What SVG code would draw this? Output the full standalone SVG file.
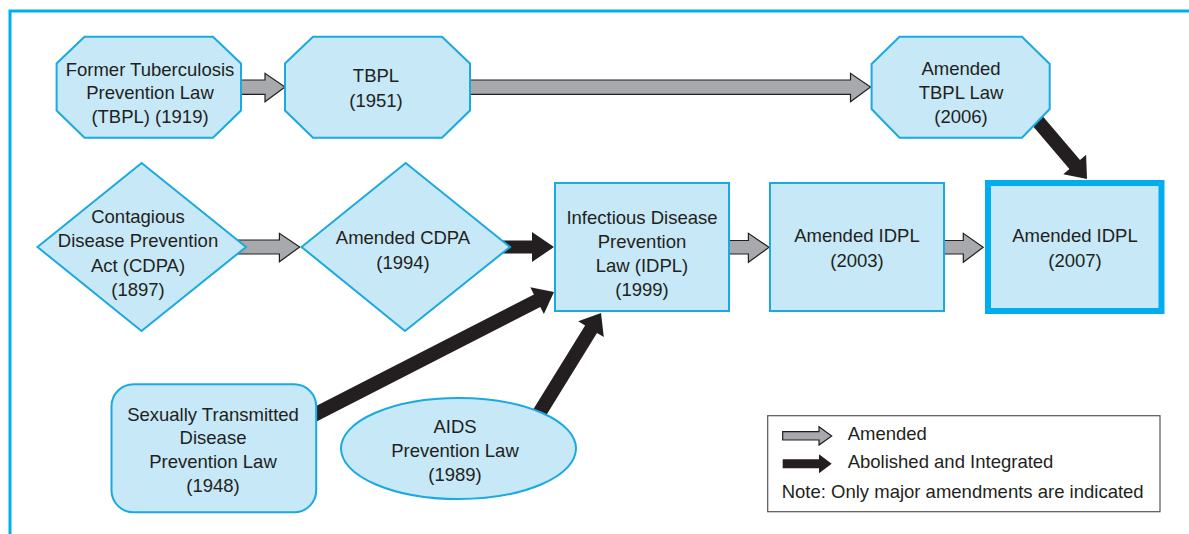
<svg xmlns="http://www.w3.org/2000/svg" width="1189" height="534" viewBox="0 0 1189 534">
<style>
.n{fill:#c6e8f7;stroke:#1ba9e1;stroke-width:2}
.t{font-family:"Liberation Sans",Arial,sans-serif;font-size:18.5px;fill:#231f20;text-anchor:middle}
.l{font-family:"Liberation Sans",Arial,sans-serif;font-size:18.5px;fill:#231f20}
.g{fill:#a7a9ac;stroke:#231f20;stroke-width:1.2;stroke-linejoin:miter}
.b{fill:#231f20;stroke:none}
</style>
<rect x="0" y="0" width="1189" height="534" fill="#ffffff"/>
<path d="M10,534 V11 H1189" fill="none" stroke="#00aeef" stroke-width="3"/>
<g id="connectors">
<polygon class="g" points="238,80 265,80 265,73.3 285,87 265,101.7 265,94.3 238,94.3"/>
<polygon class="g" points="467,80 850.5,80 850.5,73.3 870.5,87 850.5,101.7 850.5,94.3 467,94.3"/>
<polygon class="g" points="225,240 279.4,240 279.4,233.3 299.7,247 279.4,261.7 279.4,254 225,254"/>
<polygon class="g" points="726,240.5 748.4,240.5 748.4,233.3 769,247.3 748.4,262.3 748.4,254 726,254"/>
<polygon class="g" points="941,240.5 963.3,240.5 963.3,233.3 983.2,247.3 963.3,262.3 963.3,254 941,254"/>
<polygon class="b" points="495,240.5 532,240.5 532,232 554,247 532,262 532,253.5 495,253.5"/>
<polygon class="b" points="306.8,410.8 533.9,294.4 530.3,287.3 554,292 543.9,314 540.3,306.9 313.2,423.2"/>
<polygon class="b" points="529,416.3 585.1,325.5 578.2,321.3 601,313 603.8,337.1 597,332.9 541,423.7"/>
<polygon class="b" points="1035.3,107.5 1080,160 1086.1,154.8 1087,179 1063.3,174.2 1069.4,169.1 1024.7,116.5"/>
</g>
<g id="former-tbpl">
<polygon class="n" points="84.5,36.7 213,36.7 241,63.5 241,110.5 213,137.7 84.5,137.7 56.6,110.5 56.6,63.5"/>
<text class="t" x="150" y="75.5">Former Tuberculosis</text>
<text class="t" x="150" y="99.3">Prevention Law</text>
<text class="t" x="150" y="123.2">(TBPL) (1919)</text>
</g>
<g id="tbpl-1951">
<polygon class="n" points="313,36.7 442,36.7 470,63.5 470,110.5 442,137.7 313,137.7 285,110.5 285,63.5"/>
<text class="t" x="376" y="82">TBPL</text>
<text class="t" x="376" y="106.5">(1951)</text>
</g>
<g id="tbpl-2006">
<polygon class="n" points="899.5,36.7 1022,36.7 1049.7,64 1049.7,109 1022,137.7 899.5,137.7 871.6,109 871.6,64"/>
<text class="t" x="961" y="75.2">Amended</text>
<text class="t" x="961" y="99.2">TBPL Law</text>
<text class="t" x="961" y="123.2">(2006)</text>
</g>
<g id="cdpa-1897">
<polygon class="n" points="37.5,247 141.6,163 246,247 141.5,331"/>
<text class="t" x="138" y="223.2">Contagious</text>
<text class="t" x="138" y="247.2">Disease Prevention</text>
<text class="t" x="138" y="271.5">Act (CDPA)</text>
<text class="t" x="138" y="295.5">(1897)</text>
</g>
<g id="cdpa-1994">
<polygon class="n" points="301.6,247 405.7,163 510,247 405,331"/>
<text class="t" x="403" y="244.2">Amended CDPA</text>
<text class="t" x="403" y="268.8">(1994)</text>
</g>
<g id="idpl-1999">
<rect class="n" x="555" y="183" width="174" height="128"/>
<text class="t" x="642" y="223.8">Infectious Disease</text>
<text class="t" x="642" y="248.2">Prevention</text>
<text class="t" x="642" y="272.2">Law (IDPL)</text>
<text class="t" x="642" y="295.8">(1999)</text>
</g>
<g id="idpl-2003">
<rect class="n" x="770" y="183" width="174" height="128"/>
<text class="t" x="857" y="242.2">Amended IDPL</text>
<text class="t" x="857" y="266.5">(2003)</text>
</g>
<g id="idpl-2007">
<rect x="988" y="183" width="173.5" height="128" fill="#c6e8f7" stroke="#00aeef" stroke-width="6"/>
<text class="t" x="1075" y="242.2">Amended IDPL</text>
<text class="t" x="1075" y="266.5">(2007)</text>
</g>
<g id="std-1948">
<rect class="n" x="111.5" y="384.3" width="204.7" height="128" rx="22" ry="22"/>
<text class="t" x="213" y="420.8">Sexually Transmitted</text>
<text class="t" x="213" y="444.2">Disease</text>
<text class="t" x="213" y="468.2">Prevention Law</text>
<text class="t" x="213" y="492.2">(1948)</text>
</g>
<g id="aids-1989">
<ellipse class="n" cx="458.5" cy="448.5" rx="117.5" ry="50.5"/>
<text class="t" x="455" y="432.5">AIDS</text>
<text class="t" x="455" y="456.5">Prevention Law</text>
<text class="t" x="455" y="480.5">(1989)</text>
</g>
<g id="legend">
<rect x="767.7" y="415.7" width="392.3" height="96" fill="#ffffff" stroke="#555555" stroke-width="1.2"/>
<polygon class="g" points="782.7,431.7 819,431.7 819,426.7 831.7,436 819,445 819,440 782.7,440"/>
<polygon class="b" points="782.7,459.3 819,459.3 819,454.3 831.7,463.7 819,473.3 819,468.3 782.7,468.3"/>
<text class="l" x="847.7" y="440">Amended</text>
<text class="l" x="847.7" y="468">Abolished and Integrated</text>
<text class="l" x="781.7" y="498">Note: Only major amendments are indicated</text>
</g>
</svg>
